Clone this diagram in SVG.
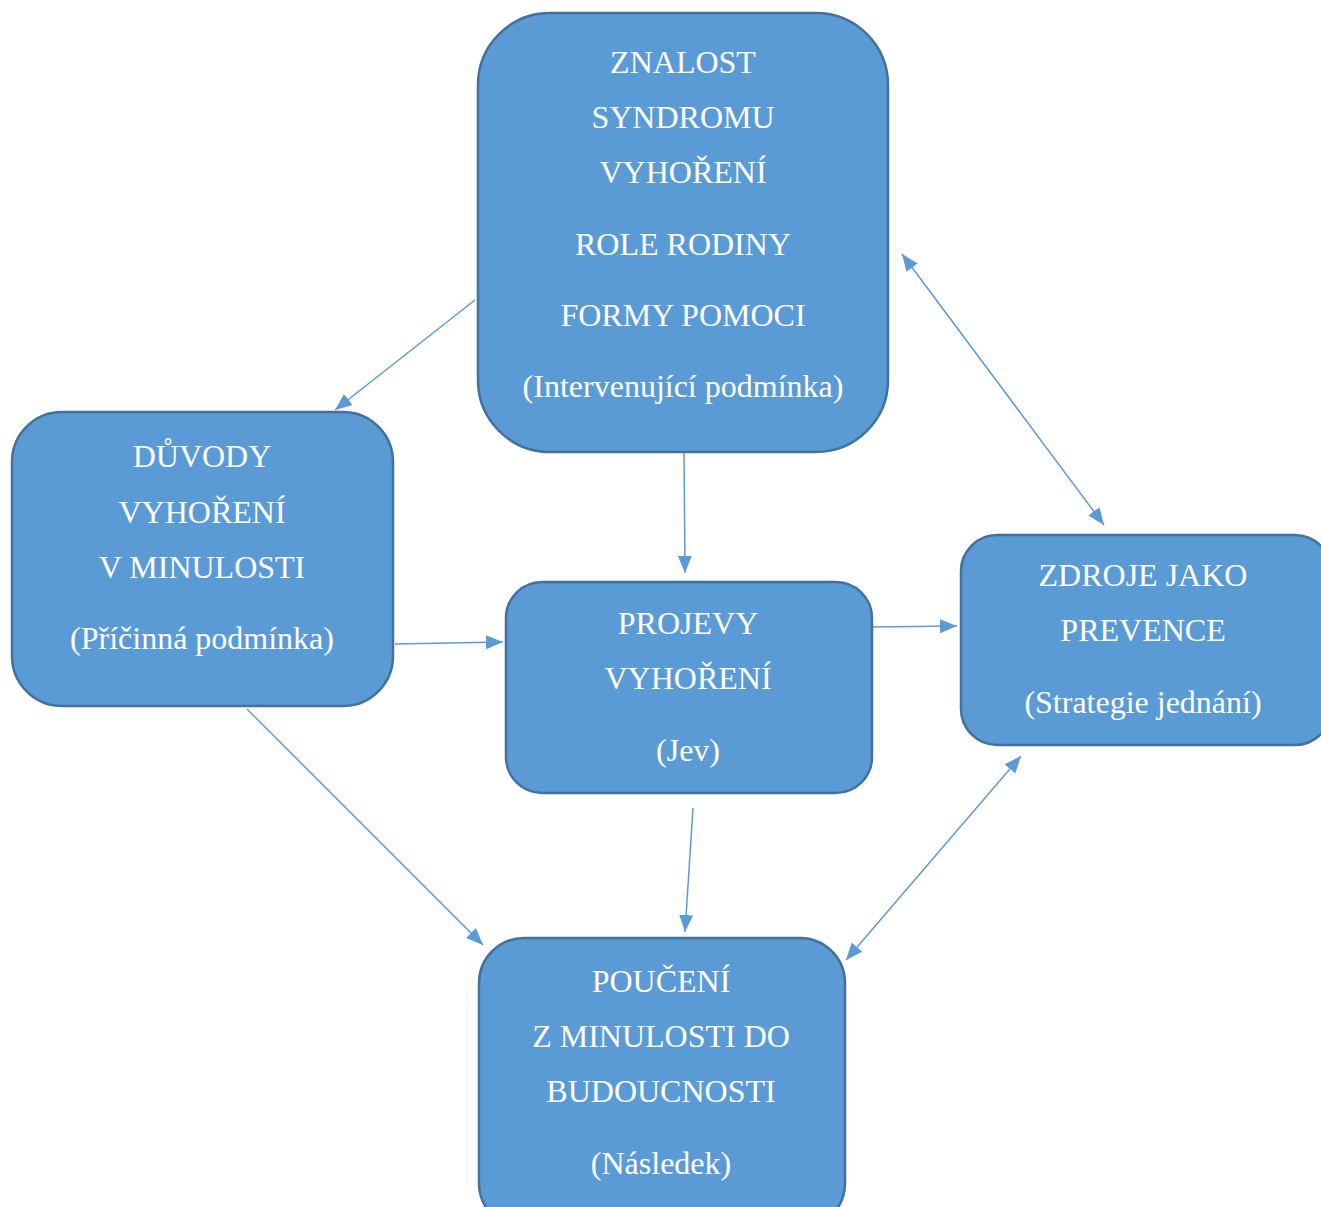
<svg xmlns="http://www.w3.org/2000/svg" width="1321" height="1207" viewBox="0 0 1321 1207">
<style>
.box{fill:#5B9BD5;stroke:#41719C;stroke-width:2.5}
.t{font-family:"Liberation Serif","Times New Roman",serif;font-size:32px;fill:#ffffff;text-anchor:middle}
.c{stroke:#5B9BD5;stroke-width:1.5;fill:none}
</style>
<defs>
<marker id="ah" markerUnits="userSpaceOnUse" markerWidth="20" markerHeight="16" refX="17" refY="8" orient="auto-start-reverse">
<path d="M0,1 L17,8 L0,15 Z" fill="#5B9BD5"/>
</marker>
</defs>
<rect width="1321" height="1207" fill="#ffffff"/>
<g id="connectors">
<line class="c" x1="475" y1="300" x2="335" y2="410" marker-end="url(#ah)"/>
<line class="c" x1="684" y1="453" x2="685" y2="573" marker-end="url(#ah)"/>
<line class="c" x1="395" y1="644" x2="503" y2="642" marker-end="url(#ah)"/>
<line class="c" x1="873" y1="627" x2="957" y2="626" marker-end="url(#ah)"/>
<line class="c" x1="902" y1="254" x2="1104" y2="525" marker-start="url(#ah)" marker-end="url(#ah)"/>
<line class="c" x1="247" y1="709" x2="483" y2="945" marker-end="url(#ah)"/>
<line class="c" x1="693" y1="808" x2="685" y2="932" marker-end="url(#ah)"/>
<line class="c" x1="1021" y1="756" x2="846" y2="960" marker-start="url(#ah)" marker-end="url(#ah)"/>
</g>
<g id="node-top">
<rect class="box" x="478" y="13" width="410" height="439" rx="72" ry="72"/>
<text class="t" x="683" y="73">ZNALOST</text>
<text class="t" x="683" y="128">SYNDROMU</text>
<text class="t" x="683" y="183">VYHOŘENÍ</text>
<text class="t" x="683" y="255">ROLE RODINY</text>
<text class="t" x="683" y="326">FORMY POMOCI</text>
<text class="t" x="683" y="397">(Intervenující podmínka)</text>
</g>
<g id="node-left">
<rect class="box" x="12" y="412" width="381" height="294" rx="50" ry="50"/>
<text class="t" x="202" y="467">DŮVODY</text>
<text class="t" x="202" y="523">VYHOŘENÍ</text>
<text class="t" x="202" y="578">V MINULOSTI</text>
<text class="t" x="202" y="649">(Příčinná podmínka)</text>
</g>
<g id="node-center">
<rect class="box" x="506" y="582" width="366" height="211" rx="36" ry="36"/>
<text class="t" x="688" y="634">PROJEVY</text>
<text class="t" x="688" y="689">VYHOŘENÍ</text>
<text class="t" x="688" y="761">(Jev)</text>
</g>
<g id="node-right">
<rect class="box" x="961" y="535" width="370" height="210" rx="36" ry="36"/>
<text class="t" x="1143" y="586">ZDROJE JAKO</text>
<text class="t" x="1143" y="641">PREVENCE</text>
<text class="t" x="1143" y="713">(Strategie jednání)</text>
</g>
<g id="node-bottom">
<rect class="box" x="479" y="938" width="366" height="290" rx="45" ry="45"/>
<text class="t" x="661" y="992">POUČENÍ</text>
<text class="t" x="661" y="1047">Z MINULOSTI DO</text>
<text class="t" x="661" y="1102">BUDOUCNOSTI</text>
<text class="t" x="661" y="1174">(Následek)</text>
</g>
</svg>
